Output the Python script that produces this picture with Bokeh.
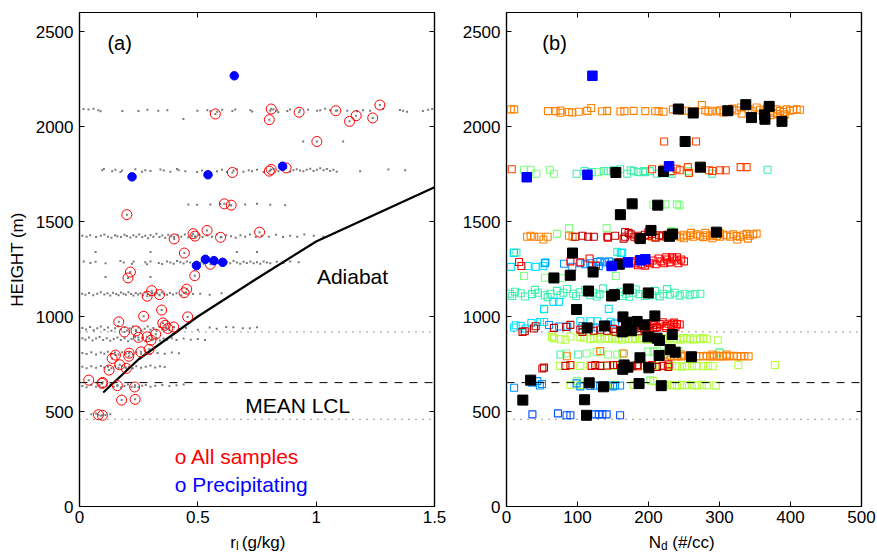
from bokeh.plotting import figure
from bokeh.layouts import row, column
from bokeh.models import Span, Label, LinearAxis, FixedTicker
from bokeh.core.properties import value
from bokeh.embed import file_html
from bokeh.resources import INLINE

FONT = "Liberation Sans"

# ---------------- data: panel (a) liquid water mixing ratio vs height ----------------
rl_ticks = [0, 0.5, 1, 1.5]
rl_tick_labels = {0: "0", 0.5: "0.5", 1: "1", 1.5: "1.5"}
height_ticks = [0, 500, 1000, 1500, 2000, 2500]
nd_ticks = [0, 100, 200, 300, 400, 500]

adiabat_rl = [0.1, 0.25, 0.5, 0.75, 1.0, 1.5]
adiabat_z = [600, 775, 1000, 1200, 1395, 1680]

mean_lcl = 652
dotted_levels = [459, 919]

rl_allsamples = [
    (0.574, 2066), (0.810, 2092), (0.802, 2036), (0.928, 2075), (1.083, 2083), (1.141, 2027),
    (1.169, 2057), (1.239, 2045), (1.269, 2113), (1.003, 1921),
    (0.646, 1758), (0.802, 1765), (0.810, 1774), (0.873, 1782),
    (0.612, 1593), (0.641, 1586), (0.200, 1536),
    (0.400, 1408), (0.480, 1436), (0.488, 1423), (0.539, 1453), (0.596, 1417), (0.761, 1444), (0.443, 1334),
    (0.553, 1275), (0.215, 1234), (0.205, 1203), (0.487, 1215),
    (0.305, 1136), (0.286, 1107), (0.338, 1115), (0.442, 1125), (0.453, 1144), (0.347, 1034),
    (0.271, 1001), (0.457, 998), (0.166, 972), (0.190, 919), (0.239, 924), (0.249, 890), (0.286, 893),
    (0.302, 875), (0.322, 907), (0.352, 966), (0.362, 954), (0.373, 937), (0.398, 945),
    (0.259, 814), (0.294, 827), (0.210, 807), (0.208, 791), (0.152, 797), (0.138, 779), (0.170, 746),
    (0.198, 727), (0.125, 718),
    (0.039, 665), (0.098, 653), (0.095, 648), (0.160, 636), (0.233, 629), (0.178, 560), (0.235, 564),
    (0.080, 483), (0.097, 480),
]

rl_precip = [
    (0.654, 2267), (0.222, 1735), (0.543, 1746), (0.858, 1791),
    (0.494, 1268), (0.532, 1301), (0.568, 1294), (0.605, 1285),
]

rl_gray_2085 = [
    (0.017, 2092), (0.038, 2090), (0.059, 2094), (0.080, 2085), (0.089, 2080), (0.181, 2082), (0.249, 2082),
    (0.287, 2088), (0.333, 2083), (0.371, 2085), (0.439, 2040), (0.498, 2083), (0.540, 2086), (0.553, 2080),
    (0.582, 2078), (0.603, 2088), (0.646, 2082), (0.658, 2090), (0.722, 2085), (0.730, 2079), (0.806, 2083),
    (0.819, 2089), (0.835, 2084), (0.840, 2075), (0.878, 2081), (0.890, 2090), (0.932, 2085), (0.966, 2088),
    (1.004, 2083), (1.017, 2085), (1.038, 2093), (1.059, 2086), (1.089, 2084), (1.131, 2083), (1.173, 2080),
    (1.198, 2085), (1.228, 2083), (1.283, 2092), (1.354, 2087), (1.367, 2083), (1.384, 2078), (1.451, 2082),
    (1.473, 2088), (1.490, 2092),
]
rl_gray_1921 = [(0.945, 1921), (1.114, 1921)]
rl_gray_1765 = [
    (0.096, 1770), (0.103, 1776), (0.138, 1765), (0.152, 1772), (0.173, 1760), (0.180, 1768), (0.236, 1775),
    (0.264, 1762), (0.278, 1770), (0.300, 1766), (0.342, 1774), (0.356, 1768), (0.384, 1762), (0.412, 1776),
    (0.419, 1770), (0.447, 1765), (0.497, 1760), (0.518, 1768), (0.581, 1765), (0.602, 1772), (0.623, 1760),
    (0.651, 1768), (0.665, 1775), (0.693, 1762), (0.715, 1770), (0.729, 1765), (0.750, 1772), (0.778, 1760),
    (0.806, 1768), (0.820, 1776), (0.841, 1765), (0.862, 1772), (0.890, 1762), (0.904, 1770), (0.918, 1775),
    (0.932, 1768), (0.946, 1764), (0.960, 1772), (0.975, 1778), (0.989, 1766), (1.003, 1772), (1.017, 1780),
    (1.031, 1770), (1.045, 1776), (1.059, 1766), (1.073, 1772), (1.087, 1762), (1.186, 1765), (1.305, 1774),
    (1.376, 1770),
]
rl_gray_1590 = [
    (0.460, 1590), (0.497, 1588), (0.553, 1590), (0.595, 1592), (0.637, 1585), (0.700, 1590),
    (0.750, 1594), (0.806, 1588), (0.869, 1586),
]
rl_gray_1430 = [
    (0.012, 1425), (0.030, 1420), (0.045, 1428), (0.070, 1418), (0.090, 1425), (0.105, 1432), (0.120, 1420),
    (0.135, 1415), (0.150, 1428), (0.160, 1422), (0.175, 1418), (0.190, 1430), (0.200, 1424), (0.215, 1416),
    (0.228, 1428), (0.240, 1420), (0.252, 1432), (0.265, 1418), (0.278, 1425), (0.290, 1412), (0.300, 1428),
    (0.312, 1420), (0.325, 1435), (0.338, 1418), (0.350, 1426), (0.362, 1414), (0.375, 1430), (0.388, 1422),
    (0.400, 1418), (0.415, 1428), (0.430, 1420), (0.445, 1432), (0.460, 1416), (0.475, 1425), (0.490, 1420),
    (0.505, 1430), (0.520, 1418), (0.540, 1426), (0.560, 1420), (0.580, 1432), (0.600, 1418), (0.620, 1428),
    (0.640, 1422), (0.660, 1415), (0.680, 1428), (0.700, 1420), (0.720, 1432), (0.745, 1418), (0.770, 1425),
    (0.800, 1420), (0.830, 1430), (0.860, 1418), (0.890, 1425), (0.920, 1420), (0.950, 1432), (0.990, 1425),
    (1.030, 1420), (1.060, 1428),
]
rl_gray_1285 = [
    (0.018, 1290), (0.046, 1282), (0.068, 1288), (0.110, 1280), (0.173, 1292), (0.187, 1284), (0.222, 1278),
    (0.229, 1290), (0.278, 1285), (0.285, 1275), (0.300, 1290), (0.335, 1282), (0.349, 1276), (0.370, 1290),
    (0.384, 1284), (0.398, 1278), (0.412, 1292), (0.426, 1285), (0.440, 1279), (0.454, 1290), (0.468, 1284),
    (0.482, 1276), (0.496, 1290), (0.511, 1283), (0.525, 1278), (0.553, 1288), (0.581, 1282), (0.595, 1290),
    (0.609, 1276), (0.623, 1286), (0.637, 1280), (0.651, 1292), (0.665, 1284), (0.679, 1278), (0.693, 1288),
    (0.707, 1282), (0.722, 1290), (0.736, 1280), (0.750, 1286), (0.764, 1278), (0.778, 1290), (0.792, 1284),
    (0.806, 1280), (0.834, 1288), (0.862, 1282), (0.890, 1290), (0.926, 1285),
    (0.068, 1339), (0.300, 1339), (0.665, 1339), (0.750, 1339), (0.110, 1208), (0.300, 1208),
]
rl_gray_1120 = [
    (0.011, 1120), (0.025, 1115), (0.040, 1124), (0.058, 1112), (0.075, 1120), (0.090, 1128), (0.105, 1116),
    (0.118, 1122), (0.130, 1110), (0.142, 1125), (0.155, 1118), (0.165, 1112), (0.175, 1126), (0.186, 1120),
    (0.196, 1114), (0.207, 1128), (0.218, 1118), (0.228, 1110), (0.238, 1124), (0.248, 1116), (0.258, 1122),
    (0.268, 1112), (0.278, 1126), (0.288, 1118), (0.298, 1110), (0.308, 1124), (0.318, 1116), (0.328, 1122),
    (0.338, 1112), (0.348, 1126), (0.358, 1118), (0.370, 1114), (0.382, 1124), (0.395, 1116), (0.410, 1122),
    (0.430, 1112), (0.450, 1126), (0.480, 1118), (0.510, 1120), (0.550, 1115), (0.600, 1122), (0.650, 1118),
]
rl_gray_935 = [
    (0.012, 940), (0.028, 932), (0.045, 945), (0.060, 928), (0.075, 938), (0.090, 948), (0.105, 930),
    (0.120, 942), (0.135, 925), (0.150, 938), (0.163, 950), (0.176, 932), (0.190, 944), (0.200, 926),
    (0.212, 938), (0.225, 948), (0.238, 930), (0.250, 942), (0.262, 925), (0.275, 936), (0.288, 948),
    (0.300, 930), (0.312, 940), (0.325, 926), (0.338, 945), (0.350, 932), (0.365, 940), (0.380, 928),
    (0.400, 944), (0.420, 934), (0.450, 940), (0.500, 930), (0.550, 942), (0.580, 936), (0.620, 945),
    (0.650, 944), (0.690, 938), (0.720, 938), (0.750, 944),
]
rl_gray_880 = [
    (0.012, 885), (0.025, 878), (0.040, 890), (0.055, 874), (0.070, 884), (0.085, 892), (0.100, 876),
    (0.115, 886), (0.130, 872), (0.145, 882), (0.160, 890), (0.175, 876), (0.190, 886), (0.205, 870),
    (0.220, 882), (0.235, 892), (0.250, 876), (0.265, 886), (0.280, 872), (0.295, 884), (0.310, 878),
    (0.325, 888), (0.340, 874), (0.355, 884), (0.370, 878), (0.390, 886), (0.410, 876), (0.440, 884),
    (0.470, 878), (0.500, 882), (0.530, 876),
]
rl_gray_807 = [
    (0.012, 808), (0.030, 802), (0.050, 812), (0.070, 800), (0.090, 810), (0.105, 804), (0.120, 814),
    (0.135, 802), (0.150, 810), (0.165, 800), (0.180, 812), (0.195, 804), (0.210, 810), (0.225, 800),
    (0.240, 812), (0.260, 804), (0.280, 810), (0.300, 802), (0.330, 808), (0.360, 804), (0.390, 810),
    (0.420, 806),
]
rl_gray_734 = [
    (0.012, 735), (0.030, 728), (0.050, 738), (0.070, 730), (0.090, 740), (0.105, 732), (0.120, 736),
    (0.135, 728), (0.150, 738), (0.165, 730), (0.180, 740), (0.195, 732), (0.210, 736), (0.225, 728),
    (0.240, 738), (0.260, 730), (0.280, 736), (0.300, 742), (0.320, 732), (0.340, 738), (0.360, 734),
]
rl_gray_634 = [
    (0.012, 634), (0.030, 628), (0.050, 640), (0.070, 630), (0.085, 638), (0.100, 626), (0.115, 636),
    (0.130, 642), (0.145, 630), (0.160, 638), (0.175, 626), (0.190, 634), (0.205, 642), (0.220, 630),
    (0.235, 638), (0.250, 628), (0.265, 636), (0.280, 640), (0.300, 630), (0.320, 636), (0.350, 640),
    (0.380, 634), (0.410, 638), (0.440, 642),
]
rl_gray_492 = [(0.050, 485), (0.070, 490), (0.090, 478), (0.110, 482), (0.130, 486)]

# ---------------- data: panel (b) droplet number concentration vs height ----------------
nd_allsamples = [
    (242, 2092), (263, 2071), (311.6, 2083), (337, 2115), (345, 2047), (363.5, 2061), (364, 2038),
    (370, 2106), (388, 2027), (251.6, 1921), (154, 1758), (221, 1763), (273, 1786), (177, 1593),
    (213, 1586), (160.4, 1536), (203.5, 1453), (188.5, 1410), (229.6, 1422), (234, 1434), (295.6, 1444),
    (93, 1334), (66.8, 1203), (89.8, 1217), (122, 1234), (159, 1275), (115.5, 1134), (148, 1108),
    (152, 1115), (171.6, 1145), (199.7, 1124), (98.7, 1037), (164, 998), (209, 1003), (113.7, 940),
    (138, 950), (169, 970), (184, 974), (194, 956), (163, 919), (175.8, 925), (233.5, 905), (199, 893),
    (212, 886), (215.6, 874), (230.6, 826), (237.6, 812), (215, 795), (188, 783), (260.5, 788),
    (165.7, 745), (171, 733), (163.7, 722), (200.5, 730), (34, 665), (116.5, 651), (186.7, 647),
    (218, 636), (136.6, 630), (23, 560), (110, 562), (112.7, 480),
]
nd_precip = [
    (121, 2267), (28.5, 1733), (114, 1746), (229, 1791), (148, 1266), (171, 1285), (188.5, 1296), (195.5, 1301),
]

nd_orange = [
    (6, 2090), (10.8, 2090), (58.4, 2081), (69.2, 2081), (76.2, 2084), (76, 2072), (87.9, 2076), (92.6, 2074),
    (101.9, 2078), (113.6, 2082), (119.3, 2097), (134.7, 2080), (141.8, 2082), (160.4, 2079), (166, 2081),
    (179, 2082), (195.5, 2081), (209.5, 2080), (214.2, 2081), (221.2, 2078), (234.4, 2090), (247, 2083),
    (254, 2083), (265.7, 2080), (275.1, 2113), (280, 2085), (284.4, 2078), (289.1, 2083), (296.1, 2079),
    (300.8, 2085), (305.5, 2074), (314.9, 2081), (318, 2094), (324.2, 2085), (330, 2100), (331.3, 2068),
    (340.6, 2092), (345.3, 2083), (352.3, 2100), (357, 2088), (361.7, 2078), (366.4, 2095), (371.1, 2083),
    (372, 2060), (375.8, 2073), (380.6, 2090), (381, 2065), (385.2, 2082), (390, 2076), (392, 2064),
    (394.6, 2090), (399.3, 2083), (404, 2087), (408.7, 2090), (413.4, 2088),
    (29, 1420), (34, 1425), (39, 1420), (46, 1420), (52, 1405), (58, 1420), (88, 1425), (93, 1420),
    (200, 1430), (205, 1420), (210, 1420), (218, 1425), (225, 1418), (232, 1430), (240, 1425), (244.6, 1420),
    (249, 1430), (250, 1412), (254, 1422), (258.6, 1428), (260, 1440), (263, 1420), (268, 1432), (272.7, 1425),
    (277, 1418), (280, 1440), (282, 1428), (286.7, 1422), (290, 1412), (291, 1430), (296, 1424), (300, 1440),
    (300.8, 1420), (305.5, 1430), (310, 1426), (315, 1420), (319.4, 1432), (324, 1424), (325, 1405),
    (328.8, 1420), (333.5, 1428), (338, 1435), (340, 1410), (342.9, 1425), (347.5, 1432), (352.3, 1436),
    (85, 791), (132, 818), (165, 805), (221, 800), (226, 795), (232, 790), (236, 793), (240, 790), (246, 790),
    (246, 800), (251, 793), (257, 790), (262, 793), (267, 790), (272, 792), (277, 790), (282, 793), (287, 790),
    (290, 800), (292, 790), (296, 795), (300, 790), (305, 790), (310, 793), (310, 800), (314, 790), (320, 793),
    (325, 790), (330, 790), (335, 792), (341, 790),
]
nd_redorange = [
    (7.4, 1775), (205, 1775), (221, 1778), (232, 1766), (239.5, 1778), (244, 1770), (255.4, 1786), (257, 1756),
    (285.3, 1770), (290, 1766), (300.8, 1770), (308.8, 1770), (329.8, 1786), (338.2, 1786),
    (222, 1921), (267, 1921),
]
nd_red = [
    (17.7, 1287), (21, 1266), (90, 1290), (104, 1285), (117, 1305), (126, 1268), (160, 1287), (170, 1280),
    (177, 1290), (182, 1280), (185, 1270), (186, 1295), (190, 1275), (194, 1300), (195, 1268), (198, 1285),
    (202, 1280), (206, 1295), (210, 1275), (214, 1305), (218, 1290), (222, 1280), (225, 1312), (226, 1300),
    (230, 1285), (233, 1312), (234, 1305), (238, 1295), (240, 1312), (242, 1280), (246, 1300), (250, 1290),
    (196, 960), (200, 950), (204, 965), (208, 955), (210, 940), (212, 945), (216, 960), (220, 970), (224, 950),
    (225, 940), (228, 962), (232, 955), (236, 968), (238, 945), (240, 960), (244, 958),
    (90, 745), (120, 740), (150, 745), (185, 738), (205, 745), (220, 740), (228, 748),
    (167, 1445), (143, 1415),
]
nd_darkred = [
    (97, 1420), (107, 1425), (115, 1420), (123, 1420), (142, 1420), (153, 1425), (165, 1410), (167, 1420),
    (172, 1440), (175, 1432), (180, 1420), (185, 1425), (185, 1410), (190, 1418), (195, 1430), (200, 1425),
    (200, 1445), (205, 1435), (210, 1415), (215, 1428), (220, 1422), (226, 1430),
    (22.5, 919), (25.7, 922), (38.7, 937), (41, 949), (66.8, 940), (84, 945), (90, 956), (104, 931), (107, 919),
    (123, 925), (132, 930), (141.6, 925), (150, 935), (153.4, 920), (160, 930), (170, 945), (172, 925),
    (178, 950), (180, 935), (185, 955), (186, 922), (190, 940), (192, 958), (194, 930), (198, 945), (202, 925),
    (206, 938),
    (52.8, 731), (50.5, 726), (83, 740), (125, 745), (132, 740), (141.6, 742), (155.8, 745), (167, 740),
    (177, 738), (184, 745), (198, 740), (212, 735), (228, 735),
]
nd_aqua = [
    (5, 1120), (8, 1108), (12, 1130), (20, 1122), (26, 1105), (36, 1118), (40, 1140), (44, 1125), (54, 1112),
    (58, 1102), (62, 1120), (71, 1135), (76, 1112), (80, 1125), (85, 1145), (94, 1120), (98, 1108), (103, 1128),
    (111, 1140), (118, 1112), (122, 1125), (127, 1105), (131, 1118), (136, 1148), (153, 1118), (160, 1130),
    (164, 1108), (168, 1120), (173, 1104), (178, 1125), (182, 1142), (187, 1118), (195, 1108), (200, 1122),
    (205, 1112), (209, 1135), (216, 1106), (221, 1120), (226, 1144), (230, 1115), (237, 1125), (244, 1110),
    (251, 1120), (258, 1112), (265, 1118), (273, 1120),
    (98.7, 1751), (110, 1765), (120, 1760), (137, 1766), (142.6, 1765), (150, 1770), (160, 1775), (170, 1751),
    (175, 1770), (179, 1765), (186, 1760), (193, 1765), (195, 1760), (202, 1765), (212, 1751), (230, 1760),
    (233, 1751), (289.5, 1751), (367.7, 1772),
    (10, 1336), (14, 1336), (156, 1340),
    (76, 800), (101, 800), (300, 811),
]
nd_lightgreen = [
    (24.7, 1772), (34, 1772), (42, 1751), (61, 1772), (66.8, 1751), (130, 1760), (256, 1765),
    (207, 1588), (216.6, 1588), (223.6, 1590), (240, 1590), (243.6, 1585),
    (71, 1435), (88, 1465), (141, 1465), (232, 1450), (236, 1445),
    (24.7, 1213), (54, 1204), (78.6, 1201), (154, 1213),
    (53, 1037),
    (84, 805), (113, 805), (127, 812), (143, 800), (156, 800), (163, 805), (199, 815), (207, 815), (212, 820),
    (225, 810), (242, 820), (300, 810),
    (99, 660), (202.5, 664),
]
nd_yellowgreen = [
    (64, 893), (67, 885), (76, 880), (83, 878), (90, 895), (104, 893), (109, 888), (118, 880), (123, 885),
    (128, 890), (132, 880), (139, 885), (144, 882), (149, 888), (153, 880), (158, 885), (163, 878), (167, 888),
    (172, 882), (177, 880), (181, 886), (188, 880), (193, 885), (198, 878), (202.5, 886), (207, 880), (212, 885),
    (216.5, 878), (221, 885), (226, 880), (230.6, 888), (235, 880), (240, 883), (245, 878), (249, 886),
    (254, 880), (258.6, 885), (263, 878), (268, 884), (273, 880), (277, 886), (282, 880), (297.5, 875),
    (75, 740), (90, 738), (104, 740), (118, 742), (132, 740), (141.6, 738), (151, 740), (163, 742), (174.5, 740),
    (184, 738), (193, 742), (205, 740), (216.5, 740), (226, 736), (233, 740), (240, 738), (247, 736), (254, 740),
    (261, 738), (268, 740), (277, 738), (284, 740), (290.5, 738), (326.5, 745), (378, 745),
    (90, 640), (104, 640), (151, 640), (179, 640), (207, 660), (222, 640), (226, 638), (233, 640), (240, 636),
    (247, 640), (254, 638), (261, 640), (268, 636), (275, 640), (282, 638), (294.7, 636),
]
nd_cyan = [
    (13, 954), (10.7, 942), (20, 950), (27, 937), (35, 966), (47, 971), (53, 971), (104, 975), (118, 975),
    (128, 975), (146.6, 972),
    (6, 1261), (10.7, 1334), (30, 1266), (41, 1261), (52, 1266), (55, 1285), (161, 1334), (163, 1336),
    (66, 1077), (74, 1077), (52.8, 1040), (144, 1040),
]
nd_azure = [
    (54, 1280), (81, 1278), (92.6, 1262), (104, 1280), (111, 1275), (118, 1280), (120, 1265), (128, 1287),
    (130, 1265), (132, 1290), (139, 1285), (144, 1290), (150, 1270), (155, 1285), (160, 1275),
    (60, 955), (74, 947), (85.6, 947), (107, 950), (128, 942), (141.7, 958), (153, 963),
    (10.7, 625), (36, 651), (43.5, 660), (47, 637), (50, 645), (98.7, 648), (104, 632), (118, 634), (125, 637),
    (132, 637), (139, 637), (146, 637), (150, 632), (153, 637), (160, 637),
]
nd_blue = [
    (36.5, 485), (72.5, 490), (84.6, 480), (90, 480), (125, 485), (130, 485), (135, 485), (141, 485), (160, 480),
]

square_groups = [
    (nd_aqua, "#40f0b0"),
    (nd_lightgreen, "#80ff80"),
    (nd_yellowgreen, "#b4ff3c"),
    (nd_cyan, "#00e0ff"),
    (nd_azure, "#0090ff"),
    (nd_blue, "#0050ff"),
    (nd_orange, "#ff8000"),
    (nd_redorange, "#ff4000"),
    (nd_red, "#ff0000"),
    (nd_darkred, "#c00000"),
]

# axis titles (main text, subscript, units)
xtitle_a = ["r", "l", "(g/kg)"]
xtitle_b = ["N", "d", "(#/cc)"]


def xs(pts):
    return [p[0] for p in pts]


def ys(pts):
    return [p[1] for p in pts]


def style_axes(p, xticks, xlabels=None):
    xa = p.below[0]
    ya = p.left[0]
    xa.ticker = FixedTicker(ticks=xticks)
    ya.ticker = FixedTicker(ticks=height_ticks)
    if xlabels:
        xa.major_label_overrides = xlabels
    for ax in (xa, ya):
        ax.major_tick_in = 5
        ax.major_tick_out = 0
        ax.minor_tick_line_color = None
        ax.axis_line_color = "black"
        ax.axis_line_width = 1.2
        ax.major_tick_line_color = "black"
        ax.major_label_text_font = FONT
        ax.major_label_text_font_size = "17px"
        ax.major_label_text_color = "black"
    xa.major_label_standoff = 4
    ya.major_label_standoff = 6
    for loc, ticks in (("above", xticks), ("right", height_ticks)):
        ax = LinearAxis(ticker=FixedTicker(ticks=ticks))
        ax.major_label_overrides = {t: "" for t in ticks}
        ax.major_label_text_font_size = "0px"
        ax.major_label_standoff = 0
        ax.major_tick_in = 5
        ax.major_tick_out = 0
        ax.minor_tick_line_color = None
        ax.axis_line_color = "black"
        ax.axis_line_width = 1.2
        ax.major_tick_line_color = "black"
        p.add_layout(ax, loc)
    p.xgrid.visible = False
    p.ygrid.visible = False
    p.outline_line_color = "black"
    p.outline_line_width = 1.2
    p.background_fill_color = "white"
    p.border_fill_color = "white"


def add_levels(p):
    p.add_layout(Span(location=mean_lcl, dimension="width", line_color="black",
                      line_width=1, line_dash="8 7"))
    for lev in dotted_levels:
        p.add_layout(Span(location=lev, dimension="width", line_color="#333333",
                          line_width=1, line_dash="1 6"))


STRIP_H = 26


def title_strip(width, left, right, x_range, xpos, words):
    s = figure(width=width, height=STRIP_H, x_range=x_range, y_range=(0, STRIP_H), title=None,
               min_border=0, min_border_left=left, min_border_right=right,
               min_border_top=0, min_border_bottom=0,
               x_axis_location=None, y_axis_location=None,
               output_backend="svg", toolbar_location=None)
    s.xgrid.visible = False
    s.ygrid.visible = False
    s.outline_line_color = None
    s.background_fill_color = "white"
    s.border_fill_color = "white"
    s.text(x=[xpos[0], xpos[2]], y=[12, 12], text=[words[0], words[2]], text_font=value(FONT),
           text_font_size="17px", text_color="black", text_baseline="alphabetic", text_align="left")
    s.text(x=[xpos[1]], y=[8.5], text=[words[1]], text_font=value(FONT),
           text_font_size="12px", text_color="black", text_baseline="alphabetic", text_align="left")
    return s


MAIN_H = 554 - STRIP_H

# ---------------- panel (a) ----------------
p1 = figure(width=449, height=MAIN_H, x_range=(0, 1.5), y_range=(0, 2600),
            min_border_left=79, min_border_right=15, min_border_top=12, min_border_bottom=MAIN_H - 506,
            output_backend="svg", toolbar_location=None)
style_axes(p1, rl_ticks, rl_tick_labels)
p1.left[0].axis_label = "HEIGHT (m)"
p1.left[0].axis_label_text_font = FONT
p1.left[0].axis_label_text_font_size = "17px"
p1.left[0].axis_label_text_font_style = "normal"
p1.left[0].axis_label_text_color = "black"
p1.left[0].axis_label_standoff = 6
add_levels(p1)

gray_rows = [rl_gray_2085, rl_gray_1921, rl_gray_1765, rl_gray_1590, rl_gray_1430, rl_gray_1285,
             rl_gray_1120, rl_gray_935, rl_gray_880, rl_gray_807, rl_gray_734, rl_gray_634, rl_gray_492,
             rl_allsamples]
for g in gray_rows:
    p1.scatter(xs(g), ys(g), marker="square", size=2, fill_color="#7a7a7a", line_color=None)

p1.line(adiabat_rl, adiabat_z, line_color="black", line_width=2.2)
p1.scatter(xs(rl_allsamples), ys(rl_allsamples), marker="circle", size=10,
           fill_color=None, line_color="red", line_width=1)
p1.scatter(xs(rl_precip), ys(rl_precip), marker="circle", size=8.5,
           fill_color="blue", line_color="blue")

p1.add_layout(Label(x=0.118, y=2440, text="(a)", text_font=FONT, text_font_size="20px",
                    text_color="black", text_baseline="alphabetic"))
p1.add_layout(Label(x=1.003, y=1212, text="Adiabat", text_font=FONT, text_font_size="21px",
                    text_color="black", text_baseline="alphabetic"))
p1.add_layout(Label(x=0.700, y=529, text="MEAN LCL", text_font=FONT, text_font_size="21px",
                    text_color="black", text_baseline="alphabetic"))
p1.add_layout(Label(x=0.402, y=263, text="o All samples", text_font=FONT, text_font_size="21px",
                    text_color="red", text_baseline="alphabetic"))
p1.add_layout(Label(x=0.402, y=114, text="o Precipitating", text_font=FONT, text_font_size="21px",
                    text_color="blue", text_baseline="alphabetic"))

# ---------------- panel (b) ----------------
p2 = figure(width=428, height=MAIN_H, x_range=(0, 500), y_range=(0, 2600),
            min_border_left=57, min_border_right=16, min_border_top=12, min_border_bottom=MAIN_H - 506,
            output_backend="svg", toolbar_location=None)
style_axes(p2, nd_ticks)
add_levels(p2)

for pts, col in square_groups:
    p2.scatter(xs(pts), ys(pts), marker="square", size=7, fill_color=None,
               line_color=col, line_width=1.1)
p2.scatter(xs(nd_allsamples), ys(nd_allsamples), marker="square", size=10,
           fill_color="black", line_color="black")
p2.scatter(xs(nd_precip), ys(nd_precip), marker="square", size=9.5,
           fill_color="blue", line_color="blue")

p2.add_layout(Label(x=50.5, y=2440, text="(b)", text_font=FONT, text_font_size="20px",
                    text_color="black", text_baseline="alphabetic"))

s1 = title_strip(449, 79, 15, (0, 1.5), [0.637, 0.661, 0.686], xtitle_a)
s2 = title_strip(428, 57, 16, (0, 500), [200.4, 217.7, 233.4], xtitle_b)

layout = column(row(p1, p2), row(s1, s2))
open("out.html", "w").write(file_html(layout, INLINE))
